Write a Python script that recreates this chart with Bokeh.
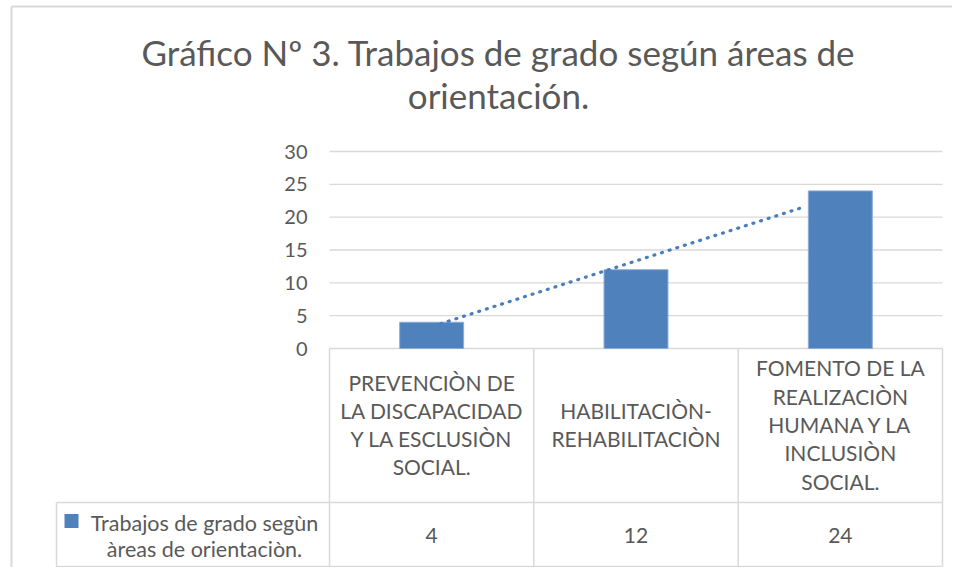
import numpy as np
from bokeh.plotting import figure
from bokeh.models import Range1d
from bokeh.core.properties import value
from bokeh.embed import file_html
from bokeh.resources import INLINE

# ---------------- data ----------------
title_lines = ["Gráfico Nº 3. Trabajos de grado según áreas de", "orientación."]
categories = [
    "PREVENCIÒN DE\nLA DISCAPACIDAD\nY LA ESCLUSIÒN\nSOCIAL.",
    "HABILITACIÒN-\nREHABILITACIÒN",
    "FOMENTO DE LA\nREALIZACIÒN\nHUMANA Y LA\nINCLUSIÒN\nSOCIAL.",
]
values = [4, 12, 24]
series_name = ["Trabajos de grado segùn", "àreas de orientaciòn."]
y_ticks = [0, 5, 10, 15, 20, 25, 30]
y_tick_labels = [str(t) for t in y_ticks]

# ---------------- style / layout ----------------
FONT = "Lato"
TXT = "#595959"
GRID = "#d9d9d9"
BLUE = "#4f81bd"

W, H = 952, 567
PLOT_L, PLOT_R = 329, 942      # horizontal extent of plot area (px)
ZERO_Y, TOP_Y = 348, 151       # pixel rows of value 0 and top tick

n = len(categories)
unit = (PLOT_R - PLOT_L) / n                   # px per category
px = (ZERO_Y - TOP_Y) / (y_ticks[-1] - y_ticks[0])  # px per value unit


def X(pxx):
    return (pxx - PLOT_L) / unit


def Y(pxy):
    return (ZERO_Y - pxy) / px


centers = np.arange(n) + 0.5

p = figure(width=W, height=H, x_range=Range1d(X(0), X(W)), y_range=Range1d(Y(H), Y(0)),
           min_border=0, x_axis_location=None, y_axis_location=None,
           output_backend="svg", toolbar_location=None)
p.outline_line_color = None
p.xgrid.visible = False
p.ygrid.visible = False

# outer chart border
p.segment(x0=[X(11), X(11)], x1=[X(11), X(W + 5)], y0=[Y(6), Y(6)], y1=[Y(H + 5), Y(6)],
          line_color=GRID, line_width=2)

# title
p.text(x=[X(498)] * 2, y=[Y(51), Y(94)], text=title_lines, text_font=value(FONT),
       text_font_size="35px", text_color=TXT, text_align="center",
       text_baseline="middle")

# value gridlines + tick labels
p.segment(x0=0, x1=n, y0=y_ticks, y1=y_ticks, line_color=GRID, line_width=1.3)
p.text(x=X(307), y=y_ticks, text=y_tick_labels, text_font=value(FONT),
       text_font_size="20px", text_color=TXT, text_align="right", text_baseline="middle")

# bars
p.vbar(x=centers, top=values, bottom=0, width=0.313,
       fill_color=BLUE, line_color="#8cadd8", line_width=1)

# linear trendline
coef = np.polyfit(np.arange(n), values, 1)
trend_span = np.array([0.044, 1.814])
p.line(trend_span + 0.5, np.polyval(coef, trend_span),
       line_color="#4a7ebb", line_width=3.2, line_dash="1 7", line_cap="round")

# ---------------- data table ----------------
ROW_Y, BOT_Y, LEG_L = 502, 566, 56
bounds = np.arange(n + 1)
p.segment(x0=bounds, x1=bounds, y0=0, y1=Y(BOT_Y), line_color=GRID, line_width=1.5)
p.segment(x0=[X(LEG_L), X(LEG_L), X(LEG_L)], x1=[n, n, X(LEG_L)],
          y0=[Y(ROW_Y), Y(BOT_Y), Y(ROW_Y)], y1=[Y(ROW_Y), Y(BOT_Y), Y(BOT_Y)],
          line_color=GRID, line_width=1.5)

lx, ly, lt = [], [], []
LINE = 28.3
for c, lab in zip(centers, categories):
    parts = lab.split("\n")
    for i, s in enumerate(parts):
        lx.append(c)
        ly.append(Y(424 + (i - (len(parts) - 1) / 2) * LINE))
        lt.append(s)
p.text(x=lx, y=ly, text=lt, text_font=value(FONT), text_font_size="21px",
       text_color=TXT, text_align="center", text_baseline="middle")

p.text(x=centers, y=[Y(535)] * n, text=[str(v) for v in values], text_font=value(FONT),
       text_font_size="21px", text_color=TXT, text_align="center", text_baseline="middle")

p.rect(x=[X(71)], y=[Y(520.5)], width=14, height=14,
       width_units="screen", height_units="screen", fill_color=BLUE, line_color=None)
p.text(x=[X(204)] * 2, y=[Y(522), Y(548)], text=series_name,
       text_font=value(FONT), text_font_size="21.5px", text_color=TXT,
       text_align="center", text_baseline="middle")

open("out.html", "w").write(file_html(p, INLINE))
